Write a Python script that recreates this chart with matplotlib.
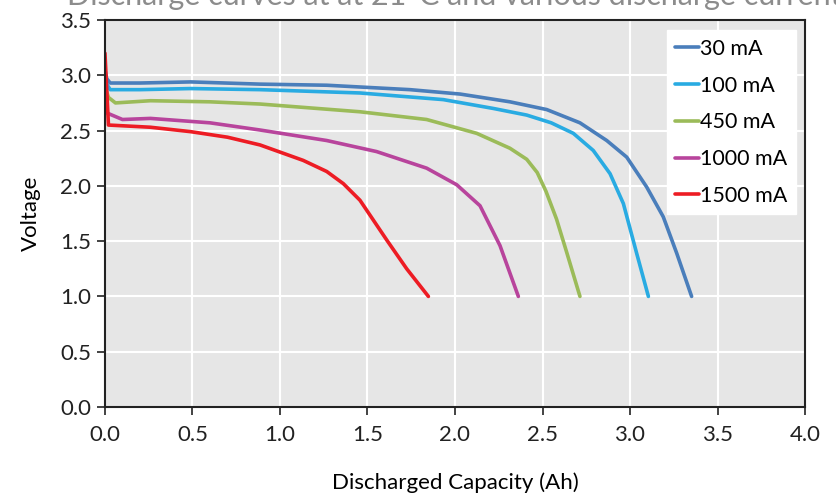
import matplotlib.pyplot as plt

plt.rcParams['font.family'] = ['Lato', 'DejaVu Sans']

# capacity (Ah) / voltage (V)
cap_30 = [0.0, 0.01, 0.03, 0.2, 0.49, 0.886, 1.267, 1.743, 2.03, 2.314, 2.524, 2.714,
          2.867, 2.981, 3.095, 3.19, 3.267, 3.352]
v_30 = [3.05, 2.97, 2.93, 2.93, 2.94, 2.92, 2.91, 2.87, 2.83, 2.76, 2.69, 2.57,
        2.41, 2.26, 1.99, 1.72, 1.39, 1.0]

cap_100 = [0.0, 0.01, 0.03, 0.2, 0.49, 0.886, 1.457, 1.933, 2.219, 2.41, 2.55, 2.676,
           2.79, 2.886, 2.962, 3.038, 3.105]
v_100 = [3.0, 2.92, 2.87, 2.87, 2.88, 2.87, 2.84, 2.78, 2.70, 2.64, 2.57, 2.475,
         2.32, 2.11, 1.84, 1.39, 1.0]

cap_450 = [0.0, 0.02, 0.06, 0.26, 0.6, 0.886, 1.457, 1.838, 2.124, 2.314, 2.41, 2.47,
           2.52, 2.58, 2.638, 2.714]
v_450 = [2.9, 2.8, 2.75, 2.77, 2.76, 2.74, 2.67, 2.60, 2.475, 2.34, 2.24, 2.12,
         1.95, 1.70, 1.40, 1.0]

cap_1000 = [0.0, 0.01, 0.1, 0.26, 0.6, 0.886, 1.267, 1.552, 1.838, 2.01, 2.143, 2.257, 2.362]
v_1000 = [2.75, 2.66, 2.6, 2.61, 2.57, 2.505, 2.41, 2.31, 2.16, 2.01, 1.82, 1.46, 1.0]

cap_1500 = [0.0, 0.02, 0.26, 0.49, 0.7, 0.886, 1.133, 1.267, 1.362, 1.457, 1.61, 1.724, 1.848]
v_1500 = [3.2, 2.55, 2.53, 2.49, 2.44, 2.37, 2.23, 2.13, 2.02, 1.87, 1.51, 1.25, 1.0]

series = [
    ("30 mA", cap_30, v_30, "#4a7ebb"),
    ("100 mA", cap_100, v_100, "#29abe2"),
    ("450 mA", cap_450, v_450, "#9bbb59"),
    ("1000 mA", cap_1000, v_1000, "#b8449c"),
    ("1500 mA", cap_1500, v_1500, "#ed1c24"),
]

fig = plt.figure(figsize=(8.37, 4.95), dpi=100)
ax = fig.add_axes([0.1254, 0.1778, 0.8364, 0.7818])
ax.set_facecolor("#e6e6e6")

for label, x, y, col in series:
    ax.plot(x, y, color=col, lw=2.6, label=label,
            solid_capstyle="round", solid_joinstyle="round")

ax.set_xlim(0, 4)
ax.set_ylim(0, 3.5)
ax.set_xticks([i * 0.5 for i in range(9)])
ax.set_yticks([i * 0.5 for i in range(8)])
ax.set_xticklabels([f"{i * 0.5:.1f}" for i in range(9)])
ax.set_yticklabels([f"{i * 0.5:.1f}" for i in range(8)])
ax.grid(True, color="white", lw=1.5)
ax.set_axisbelow(True)
for s in ax.spines.values():
    s.set_color("#222222")
    s.set_linewidth(1.5)
ax.tick_params(direction="out", length=6, width=1.2, labelsize=16, colors="#222222")
ax.tick_params(axis="x", pad=7)
ax.tick_params(axis="y", pad=4)

ax.set_xlabel("Discharged Capacity (Ah)", fontsize=16, labelpad=20)
ax.set_ylabel("Voltage", fontsize=16, labelpad=14)

leg = ax.legend(loc="upper right", bbox_to_anchor=(0.993, 0.985), fontsize=15.5,
                frameon=True, fancybox=False, handlelength=1.1, handletextpad=0.05,
                labelspacing=0.78, borderpad=0.4, borderaxespad=0.2)
leg.get_frame().set_edgecolor("white")
leg.get_frame().set_facecolor("white")
leg.get_frame().set_alpha(1)

fig.text(0.08, 0.99, "Discharge curves at at 21°C and various discharge currents",
         fontsize=22, color="#8c8c8c", va="baseline", ha="left")

fig.savefig("out.png", dpi=100)
